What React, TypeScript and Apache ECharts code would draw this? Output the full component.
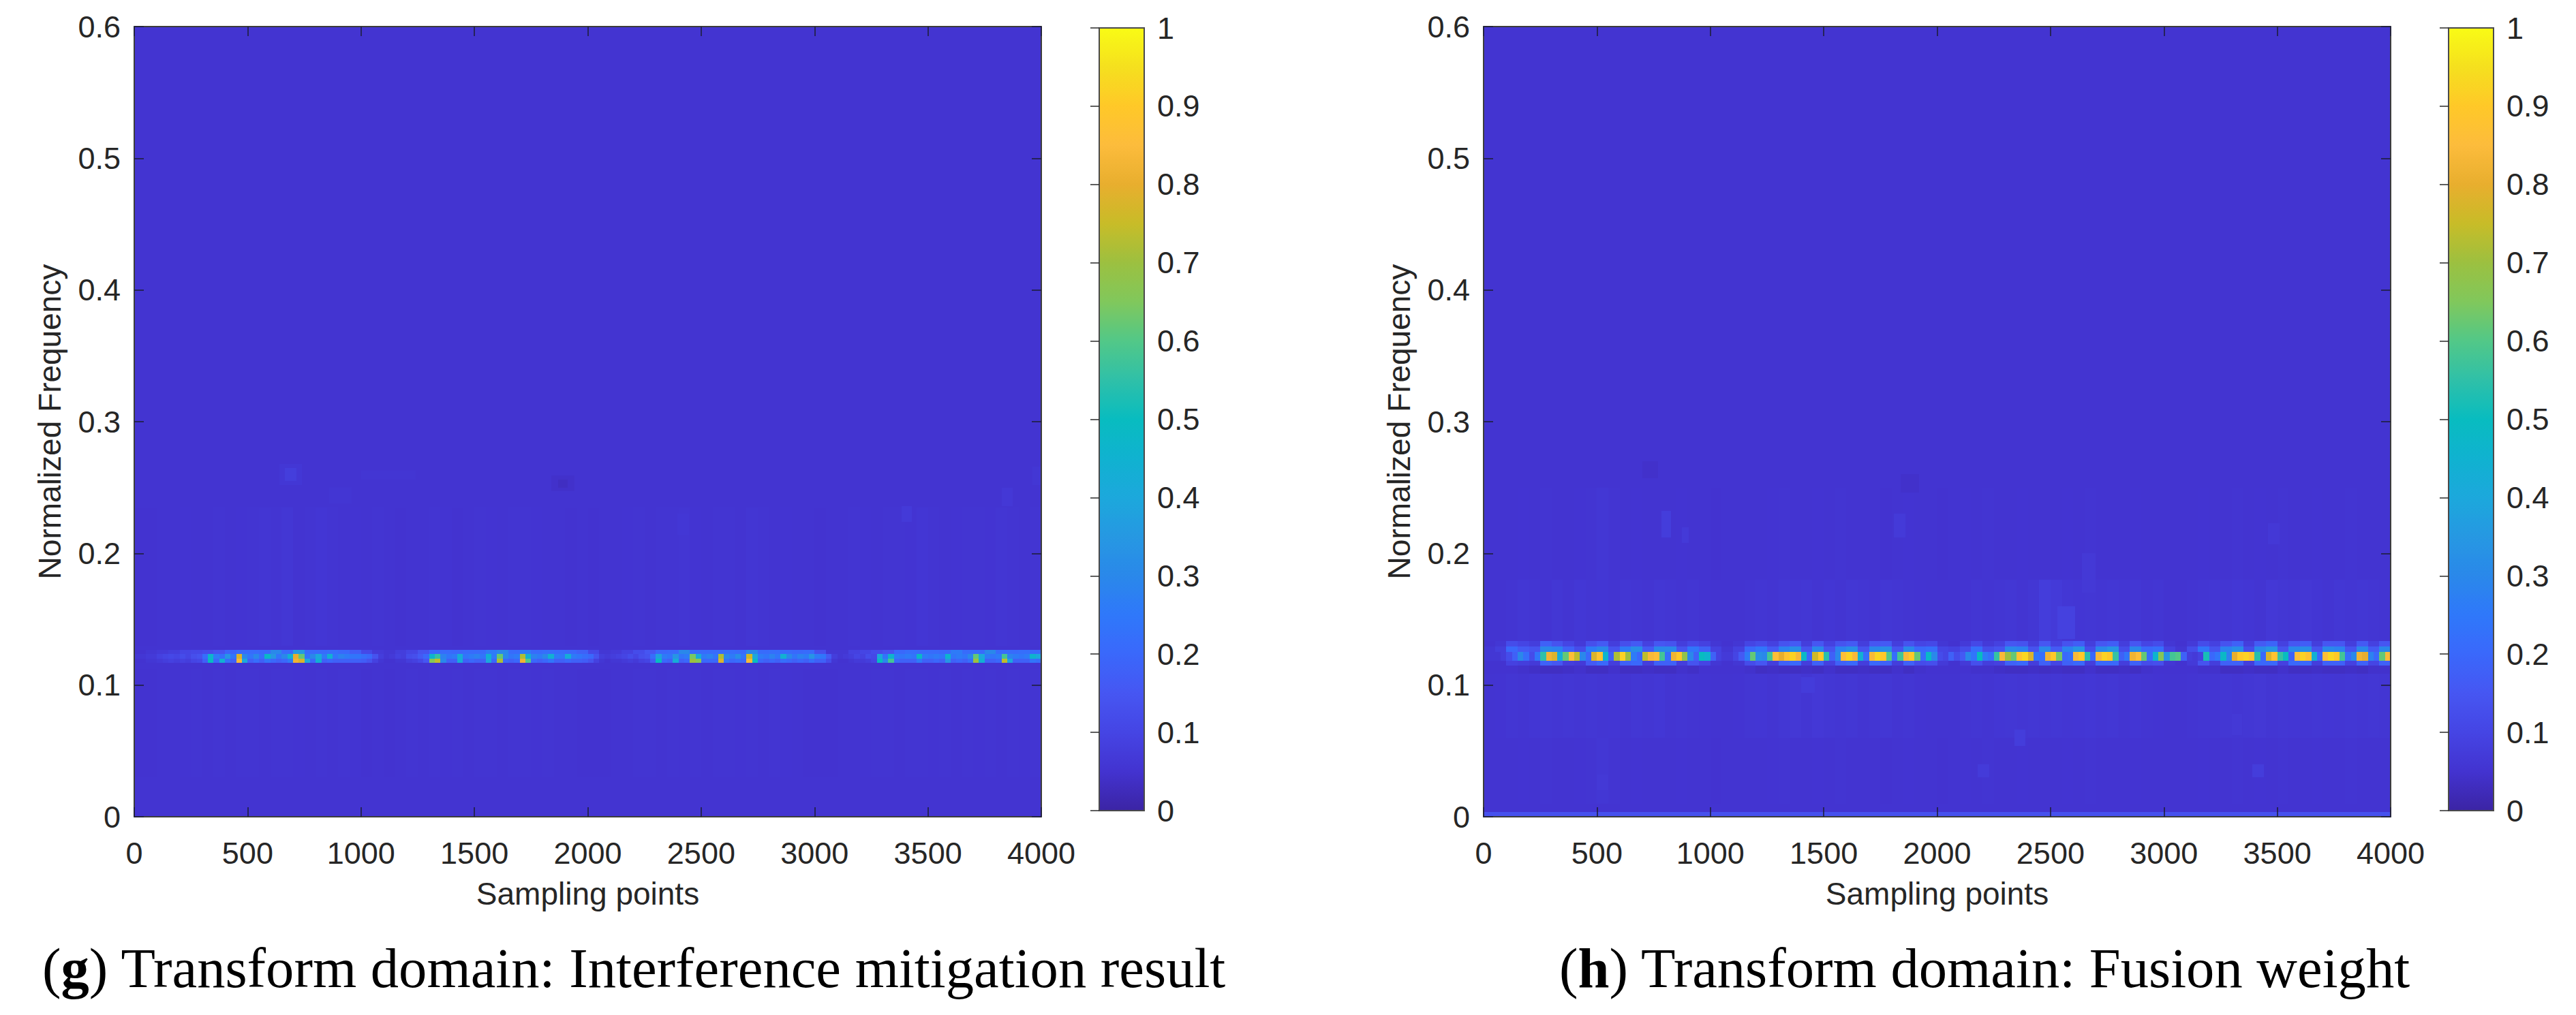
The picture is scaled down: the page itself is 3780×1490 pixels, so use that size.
import React, { useEffect, useRef } from "react";
import * as echarts from "echarts";

const xTicks = { min: 0, max: 4000, interval: 500 };
const yTicks = { min: 0, max: 0.6, interval: 0.1 };
const colorbarTicks = { min: 0, max: 1, interval: 0.1 };

const captionG = "Transform domain: Interference mitigation result";
const captionH = "Transform domain: Fusion weight";
const xName = "Sampling points";
const yName = "Normalized Frequency";

// colour scale, one stop each 0.05
const colorStops = [
  "#3b24a4", "#4333d0", "#4545e4", "#4656f2", "#3a68fb", "#2f78fa", "#2a88ea", "#2698e2", "#1ca8dc", "#10b2d0",
  "#08bcc0", "#2fc0a8", "#52c888", "#80c85c", "#9cc040", "#c8bc28", "#e8ae2e", "#fcbc3c", "#ffc828", "#f5e01e", "#f9fb15",
];

const background = 0.052;

// Panel g: row values along the band, left to right
const gCore = [
  .06,.06,.07,.07,.09,.10,.11,.10,.12,.10,.13,.14,.22,.46,.26,.22,.34,.24,.78,.30,
  .24,.30,.22,.48,.34,.24,.30,.44,.80,.62,.24,.30,.40,.26,.44,.24,.28,.26,.24,.24,
  .22,.20,.14,.08,.06,.07,.09,.08,.12,.13,.16,.20,.46,.56,.28,.24,.26,.42,.24,.26,
  .28,.24,.44,.26,.62,.30,.24,.26,.72,.44,.28,.26,.30,.44,.26,.24,.42,.26,.24,.22,
  .20,.14,.08,.07,.08,.09,.10,.12,.10,.13,.14,.22,.38,.26,.24,.34,.24,.26,.64,.42,
  .26,.28,.24,.72,.30,.26,.32,.24,.76,.40,.26,.24,.28,.24,.44,.30,.24,.28,.26,.34,
  .26,.24,.16,.08,.06,.07,.08,.10,.09,.12,.11,.40,.24,.46,.26,.24,.26,.24,.48,.26,
  .24,.26,.24,.46,.24,.26,.24,.30,.62,.40,.26,.24,.26,.58,.28,.26,.24,.26,.46,.40,
];
const gLower = [
  .05,.05,.06,.06,.07,.08,.09,.08,.09,.08,.10,.11,.18,.50,.20,.44,.22,.18,.84,.40,
  .18,.22,.18,.24,.20,.18,.20,.26,.82,.78,.40,.20,.44,.18,.20,.18,.18,.18,.18,.18,
  .17,.14,.09,.06,.05,.05,.06,.06,.08,.09,.11,.15,.66,.74,.30,.18,.18,.42,.18,.20,
  .18,.18,.40,.20,.72,.20,.18,.20,.82,.60,.20,.18,.20,.24,.18,.18,.20,.18,.18,.17,
  .14,.09,.06,.05,.06,.06,.07,.08,.07,.09,.10,.17,.50,.20,.18,.42,.18,.20,.70,.66,
  .20,.20,.20,.78,.24,.20,.22,.20,.84,.50,.20,.18,.20,.18,.22,.20,.18,.20,.18,.22,
  .18,.18,.12,.06,.05,.05,.06,.07,.07,.08,.10,.50,.30,.58,.20,.18,.18,.18,.26,.18,
  .18,.20,.18,.34,.18,.20,.18,.22,.70,.44,.18,.18,.20,.74,.40,.18,.18,.18,.24,.22,
];
const gUpper = [
  .05,.06,.07,.08,.10,.11,.12,.14,.19,.21,.21,.20,.30,.21,.36,.21,.21,.22,.20,.17,
  .11,.07,.06,.08,.10,.14,.20,.21,.20,.21,.21,.26,.30,.21,.26,.21,.22,.21,.20,.18,
  .11,.06,.07,.09,.12,.15,.20,.21,.30,.21,.21,.21,.22,.21,.30,.21,.22,.21,.20,.21,
  .13,.06,.06,.09,.10,.12,.14,.20,.22,.21,.21,.20,.26,.21,.21,.30,.21,.21,.22,.21,
];
const gBelowStripes = [
  .051,.051,.052,.053,.054,.055,.053,.056,.052,.055,.056,.053,.055,.056,.054,.052,.055,.053,.055,.054,
  .051,.052,.051,.053,.055,.053,.056,.054,.056,.053,.055,.056,.053,.055,.056,.054,.055,.052,.053,.051,
  .051,.051,.052,.053,.055,.056,.053,.056,.054,.055,.053,.056,.056,.054,.055,.053,.056,.054,.052,.051,
  .051,.051,.052,.053,.054,.055,.056,.053,.055,.056,.054,.055,.053,.056,.054,.055,.053,.056,.054,.055,
];
const gAboveStripes = [
  .051,.051,.052,.052,.054,.053,.052,.055,.053,.054,.056,.058,.055,.060,.053,.056,.059,.055,.052,.054,
  .053,.055,.052,.051,.053,.052,.055,.054,.051,.053,.055,.054,.053,.056,.055,.054,.052,.053,.051,.052,
  .051,.052,.053,.054,.055,.053,.056,.055,.058,.054,.053,.055,.056,.053,.057,.055,.053,.054,.052,.053,
  .051,.052,.053,.055,.054,.053,.055,.056,.054,.059,.055,.053,.054,.055,.056,.054,.057,.055,.053,.055,
];
// [x start, x end, y start, y end, value]
const gPatches = [
  [640, 740, 0.252, 0.268, 0.062], [665, 715, 0.255, 0.265, 0.08], [1000, 1240, 0.256, 0.263, 0.058],
  [860, 960, 0.238, 0.25, 0.057], [1840, 1940, 0.247, 0.259, 0.044], [1870, 1910, 0.25, 0.256, 0.034],
  [2395, 2445, 0.214, 0.23, 0.062], [3385, 3430, 0.224, 0.236, 0.07], [3825, 3875, 0.236, 0.25, 0.064],
  [3960, 4000, 0.252, 0.266, 0.06],
];

// Panel h
const hCore = [
  .06,.06,.06,.08,.12,.18,.30,.22,.12,.24,.55,.82,.78,.42,.62,.86,.74,.30,.20,.78,
  .88,.46,.18,.72,.92,.70,.26,.20,.74,.84,.86,.58,.22,.82,.90,.68,.30,.18,.50,.46,
  .18,.09,.07,.07,.10,.16,.26,.62,.32,.30,.58,.86,.80,.88,.92,.84,.48,.20,.76,.90,
  .54,.18,.30,.86,.92,.84,.44,.22,.84,.93,.90,.60,.22,.58,.84,.90,.62,.22,.48,.30,
  .12,.10,.18,.12,.16,.30,.24,.50,.26,.22,.56,.84,.70,.62,.88,.93,.78,.24,.22,.82,
  .90,.64,.20,.22,.84,.90,.54,.20,.84,.92,.90,.56,.18,.24,.82,.86,.62,.22,.46,.66,
  .34,.58,.60,.18,.08,.07,.09,.52,.20,.24,.48,.28,.80,.90,.92,.88,.54,.20,.78,.88,
  .56,.50,.18,.86,.92,.88,.44,.20,.86,.93,.90,.58,.22,.30,.82,.80,.28,.20,.62,.84,
];
const hUpper = [
  .06,.08,.20,.16,.14,.30,.28,.18,.12,.26,.30,.14,.26,.32,.16,.30,.30,.14,.24,.18,
  .09,.06,.09,.20,.24,.16,.28,.32,.14,.30,.14,.28,.32,.14,.30,.32,.14,.30,.20,.22,
  .10,.09,.12,.22,.12,.14,.30,.28,.14,.30,.16,.28,.34,.12,.30,.34,.12,.30,.20,.22,
  .09,.06,.12,.24,.14,.28,.32,.12,.30,.34,.14,.30,.32,.14,.30,.28,.14,.30,.16,.30,
];
const hHalo = [
  .05,.06,.12,.10,.08,.18,.14,.10,.07,.13,.16,.08,.13,.16,.09,.15,.14,.08,.11,.09,
  .06,.05,.06,.10,.12,.09,.14,.16,.08,.15,.09,.14,.16,.08,.15,.16,.08,.14,.10,.11,
  .06,.05,.07,.11,.07,.09,.15,.14,.08,.15,.09,.14,.17,.08,.15,.17,.08,.15,.10,.12,
  .06,.05,.07,.12,.09,.14,.18,.08,.16,.19,.09,.15,.17,.08,.15,.15,.08,.16,.09,.15,
];
const hLower = [
  .05,.05,.09,.08,.07,.18,.15,.08,.07,.16,.20,.08,.18,.20,.08,.18,.18,.08,.14,.10,
  .06,.05,.06,.12,.15,.08,.18,.20,.08,.18,.09,.18,.20,.08,.20,.18,.08,.18,.12,.13,
  .07,.05,.07,.13,.08,.09,.18,.20,.08,.18,.10,.18,.20,.08,.20,.20,.08,.18,.12,.13,
  .06,.05,.07,.14,.08,.18,.18,.08,.20,.20,.09,.20,.20,.08,.18,.18,.09,.18,.10,.18,
];
const hShadow = [
  .05,.05,.05,.045,.04,.035,.035,.04,.045,.035,.035,.045,.035,.035,.04,.035,.035,.045,.04,.05,
  .05,.05,.05,.045,.035,.04,.035,.035,.04,.035,.045,.035,.035,.04,.035,.035,.045,.035,.045,.05,
  .05,.05,.05,.045,.045,.04,.035,.035,.04,.035,.04,.035,.035,.045,.035,.035,.04,.035,.045,.05,
  .05,.05,.05,.045,.045,.035,.035,.04,.035,.035,.045,.035,.035,.04,.035,.035,.04,.035,.045,.045,
];
const hAboveStripes = [
  .052,.053,.056,.060,.057,.054,.061,.056,.062,.057,.059,.055,.061,.058,.055,.060,.058,.055,.057,.054,
  .052,.053,.052,.055,.058,.055,.060,.057,.061,.056,.059,.055,.060,.058,.054,.061,.057,.055,.054,.052,
  .052,.052,.054,.057,.055,.058,.060,.056,.061,.078,.070,.062,.059,.061,.057,.060,.058,.061,.055,.057,
  .053,.052,.055,.058,.061,.057,.062,.059,.056,.064,.060,.057,.063,.059,.056,.061,.058,.060,.057,.055,
];
const hBelowStripes = [
  .052,.054,.058,.056,.059,.061,.057,.060,.058,.061,.057,.059,.055,.060,.057,.062,.055,.058,.056,.054,
  .052,.053,.054,.057,.059,.056,.060,.063,.058,.065,.060,.057,.060,.056,.058,.060,.056,.057,.054,.053,
  .052,.053,.055,.057,.055,.059,.061,.058,.060,.057,.061,.058,.059,.062,.058,.060,.056,.059,.055,.054,
  .053,.052,.055,.058,.057,.060,.058,.061,.063,.058,.061,.059,.057,.061,.059,.058,.061,.057,.060,.057,
];
const hFarStripes = [
  .053,.052,.052,.054,.052,.055,.053,.052,.054,.056,.060,.055,.052,.054,.052,.053,.052,.054,.052,.052,
  .051,.052,.052,.053,.052,.054,.056,.053,.052,.054,.052,.055,.053,.052,.052,.051,.052,.054,.052,.052,
  .051,.052,.054,.052,.055,.053,.052,.054,.052,.053,.052,.054,.052,.055,.053,.052,.052,.054,.052,.052,
  .052,.052,.053,.054,.052,.053,.055,.052,.054,.052,.055,.053,.052,.054,.052,.053,.055,.052,.052,.052,
];
const hPatches = [
  [2530, 2610, 0.135, 0.16, 0.088], [785, 825, 0.212, 0.232, 0.078], [875, 905, 0.208, 0.22, 0.07],
  [1810, 1860, 0.212, 0.23, 0.07], [1840, 1920, 0.246, 0.26, 0.044], [700, 770, 0.257, 0.27, 0.044],
  [2640, 2700, 0.17, 0.2, 0.066], [3460, 3510, 0.207, 0.223, 0.064], [2340, 2390, 0.054, 0.066, 0.078],
  [2180, 2230, 0.03, 0.04, 0.072], [3390, 3440, 0.03, 0.04, 0.078], [500, 550, 0.02, 0.032, 0.066],
  [1400, 1460, 0.094, 0.106, 0.076], [3300, 3345, 0.062, 0.078, 0.066],
];
const hBottomEdge = [[0, 4000, 0, 0.0035, 0.135]];

type Cell = number[];
const rowCells = (values: number[], yLow: number, yHigh: number): Cell[] => {
  const bin = xTicks.max / values.length;
  return values.map((v, i) => [i * bin, (i + 1) * bin, yLow, yHigh, v]);
};

const gCells: Cell[] = [
  [xTicks.min, xTicks.max, yTicks.min, yTicks.max, background],
  ...rowCells(gBelowStripes, 0.03, 0.112),
  ...rowCells(gAboveStripes, 0.13, 0.235),
  ...gPatches,
  ...rowCells(gUpper, 0.1236, 0.1268),
  ...rowCells(gCore, 0.12, 0.1236),
  ...rowCells(gLower, 0.1168, 0.12),
];

const hCells: Cell[] = [
  [xTicks.min, xTicks.max, yTicks.min, yTicks.max, background],
  ...rowCells(hFarStripes, 0.01, 0.06),
  ...rowCells(hFarStripes, 0.18, 0.25),
  ...rowCells(hBelowStripes, 0.06, 0.1086),
  ...rowCells(hAboveStripes, 0.1335, 0.18),
  ...hPatches,
  ...hBottomEdge,
  ...rowCells(hShadow, 0.1086, 0.1148),
  ...rowCells(hLower, 0.1148, 0.1185),
  ...rowCells(hCore, 0.1185, 0.1252),
  ...rowCells(hUpper, 0.1252, 0.1292),
  ...rowCells(hHalo, 0.1292, 0.1335),
];

const renderCell = (_: unknown, api: any) => {
  const a = api.coord([api.value(0), api.value(3)]);
  const b = api.coord([api.value(1), api.value(2)]);
  const x0 = Math.round(a[0]);
  const y0 = Math.round(a[1]);
  return {
    type: "rect",
    shape: { x: x0, y: y0, width: Math.round(b[0]) - x0, height: Math.round(b[1]) - y0 },
    style: { fill: api.visual("color") },
  };
};

const INK = "#262626";
const SANS = "Liberation Sans";
const plainNumber = (v: number) => String(v);
const layout = {
  top: 39,
  plotHeight: 1160,
  plotWidth: 1331,
  barTop: 41,
  barHeight: 1149,
  barWidth: 66,
  panels: [
    { plotLeft: 197, barLeft: 1613 },
    { plotLeft: 2177, barLeft: 3593 },
  ],
};

const boxAxis = {
  axisLine: { show: true, onZero: false, lineStyle: { color: "#3c3c3c", width: 2 } },
  axisTick: { show: true, inside: true, length: 14, lineStyle: { color: "rgba(30,30,60,0.8)", width: 2 } },
  splitLine: { show: false },
  z: 10,
};

const buildOption = () => {
  const grid: any[] = [];
  const xAxis: any[] = [];
  const yAxis: any[] = [];
  const visualMap: any[] = [];
  const series: any[] = [];
  [gCells, hCells].forEach((cells, p) => {
    const panel = layout.panels[p];
    const gi = grid.length;
    grid.push({ left: panel.plotLeft, top: layout.top, width: layout.plotWidth, height: layout.plotHeight });
    grid.push({
      left: panel.barLeft, top: layout.barTop, width: layout.barWidth, height: layout.barHeight,
      show: true, backgroundColor: "transparent", borderColor: "#4a4a4a", borderWidth: 2, z: 20,
    });
    const xi = xAxis.length;
    const yi = yAxis.length;
    xAxis.push({
      ...boxAxis, type: "value", gridIndex: gi, position: "bottom", ...xTicks,
      axisLabel: { color: INK, fontFamily: SANS, fontSize: 45, margin: 31, formatter: plainNumber },
      name: xName, nameLocation: "middle", nameGap: 90,
      nameTextStyle: { color: INK, fontFamily: SANS, fontSize: 46 },
    });
    xAxis.push({ ...boxAxis, type: "value", gridIndex: gi, position: "top", ...xTicks, axisLabel: { show: false } });
    xAxis.push({ type: "value", gridIndex: gi + 1, show: false, min: 0, max: 1 });
    yAxis.push({
      ...boxAxis, type: "value", gridIndex: gi, position: "left", ...yTicks,
      axisLabel: { color: INK, fontFamily: SANS, fontSize: 45, margin: 20 },
      name: yName, nameLocation: "middle", nameGap: 101,
      nameTextStyle: { color: INK, fontFamily: SANS, fontSize: 46 },
    });
    yAxis.push({ ...boxAxis, type: "value", gridIndex: gi, position: "right", ...yTicks, axisLabel: { show: false } });
    yAxis.push({
      type: "value", gridIndex: gi + 1, position: "right", ...colorbarTicks, z: 30,
      axisLine: { show: false },
      axisTick: { show: true, inside: true, length: 13, lineStyle: { color: "rgba(40,40,40,0.75)", width: 2 } },
      splitLine: { show: false },
      axisLabel: { color: INK, fontFamily: SANS, fontSize: 45, margin: 19 },
    });
    series.push({
      type: "custom",
      xAxisIndex: xi,
      yAxisIndex: yi,
      data: cells,
      encode: { x: [0, 1], y: [2, 3] },
      renderItem: renderCell,
      clip: true,
      silent: true,
    });
    visualMap.push({
      type: "continuous",
      seriesIndex: p,
      dimension: 4,
      min: colorbarTicks.min,
      max: colorbarTicks.max,
      orient: "vertical",
      left: panel.barLeft,
      top: layout.barTop,
      itemWidth: layout.barWidth,
      itemHeight: layout.barHeight,
      padding: 0,
      text: null,
      showLabel: false,
      calculable: false,
      realtime: false,
      hoverLink: false,
      inRange: { color: colorStops },
    });
  });
  const captionText = (bold: string, rest: string) => `{a|(}{b|${bold}}{a|) ${rest}}`;
  const captionRich = {
    a: { fontFamily: "Liberation Serif", fontSize: 82.6, fill: "#000" },
    b: { fontFamily: "Liberation Serif", fontSize: 82.6, fontWeight: "bold", fill: "#000" },
  };
  const graphic = [
    { type: "text", left: 62, top: 1379, z: 50, style: { text: captionText("g", captionG), rich: captionRich } },
    { type: "text", left: 2288, top: 1379, z: 50, style: { text: captionText("h", captionH), rich: captionRich } },
  ];
  return { animation: false, backgroundColor: "#ffffff", grid, xAxis, yAxis, visualMap, series, graphic };
};

export default function App() {
  const ref = useRef<HTMLDivElement>(null);
  useEffect(() => {
    document.body.style.margin = "0";
    const chart = echarts.init(ref.current!, undefined, { renderer: "svg" });
    chart.setOption(buildOption() as any);
    return () => chart.dispose();
  }, []);
  return <div ref={ref} style={{ width: 3780, height: 1490 }} />;
}
